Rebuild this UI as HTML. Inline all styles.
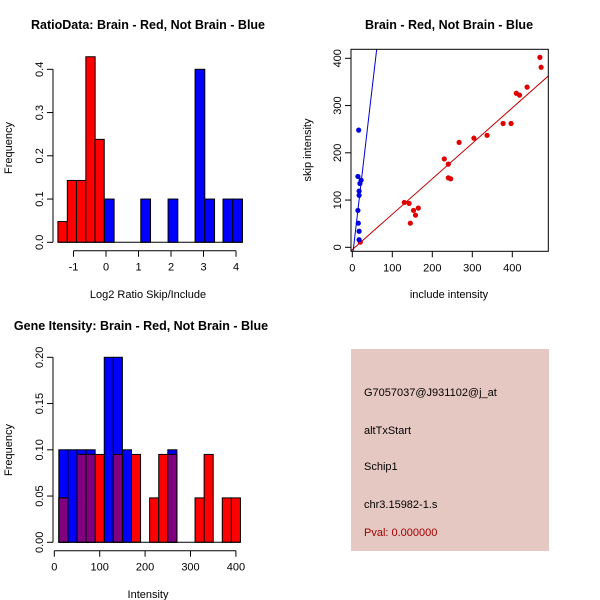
<!DOCTYPE html>
<html><head><meta charset="utf-8"><style>
body{margin:0;background:#fff}
svg{display:block;font-family:"Liberation Sans",Arial,sans-serif}
</style></head><body>
<svg id="s" width="600" height="600" xmlns="http://www.w3.org/2000/svg">
<rect x="0" y="0" width="600" height="600" fill="#fff"/>
<text x="148" y="29" font-size="12.5" font-weight="bold" text-anchor="middle">RatioData: Brain - Red, Not Brain - Blue</text>
<text x="449" y="29" font-size="12.5" font-weight="bold" text-anchor="middle">Brain - Red, Not Brain - Blue</text>
<text x="141" y="330" font-size="12.5" font-weight="bold" text-anchor="middle">Gene Itensity: Brain - Red, Not Brain - Blue</text>
<rect x="351" y="349" width="198" height="202" fill="#e6c8c2"/>
<g font-size="11" fill="#000">
<text x="364" y="396">G7057037@J931102@j_at</text>
<text x="364" y="434">altTxStart</text>
<text x="364" y="470">Schip1</text>
<text x="364" y="508">chr3.15982-1.s</text>
<text x="364" y="536" fill="#a00000">Pval: 0.000000</text>
</g>
</svg>
<script>
// ---- Panel 1 data ----
const ratioTicksX = [-1,0,1,2,3,4];
const ratioTicksY = [0,0.1,0.2,0.3,0.4];
const redRatioLefts = [-1.48,-1.19,-0.91,-0.62,-0.34];
const redRatioFreq = [0.048,0.143,0.143,0.429,0.238];
const blueRatioLefts = [-0.05,1.07,1.91,2.74,3.04,3.6,3.9];
const blueRatioFreq = [0.1,0.1,0.1,0.4,0.1,0.1,0.1];
// ---- Panel 2 data ----
const scatTicks = [0,100,200,300,400];
const redInclude = [20,130,142,153,145,158,165,230,240,240,246,267,304,337,377,397,410,418,437,469,472];
const redSkip = [11,95,93,78,51,68,83,187,176,147,145,222,231,237,262,262,326,322,339,402,381];
const blueInclude = [16,14,22,19,17,17,14,15,17,17];
const blueSkip = [248,150,142,135,119,110,78,51,34,16];
const redFit = [-5,0.75];
const blueFit = [-23,7.25];
// ---- Panel 3 data ----
const intTicksX = [0,100,200,300,400];
const intTicksY = [0,0.05,0.10,0.15,0.20];
const intBinLefts = [10,30,50,70,90,110,130,150,170,190,210,230,250,270,290,310,330,350,370,390];
const redIntFreq = [0.048,0,0.095,0.095,0.095,0,0.095,0,0.095,0,0.048,0.095,0.095,0,0,0.048,0.095,0,0.048,0.048];
const blueIntFreq = [0.1,0.1,0.1,0.1,0,0.2,0.2,0.1,0,0,0,0,0.1,0,0,0,0,0,0,0];

const NS="http://www.w3.org/2000/svg", S=document.getElementById('s');
function mk(t,a,p){const e=document.createElementNS(NS,t);for(const k in a)e.setAttribute(k,a[k]);(p||S).appendChild(e);return e;}
function line(x1,y1,x2,y2,c,p){return mk('line',{x1,y1,x2,y2,stroke:c||'#000','stroke-width':1},p);}

// Panel 1
const g1=mk('g',{});


const x1=v=>73.5+(v+1)*32.5, y1=v=>242.3-v*432.5;
function bars(g,lefts,vals,w,xf,yf,fill,nm){
  lefts.forEach((l,i)=>{ if(vals[i]<=0)return;
    const r=mk('rect',{x:xf(l),y:yf(vals[i]),width:xf(l+w)-xf(l),height:yf(0)-yf(vals[i]),fill,stroke:'#000','stroke-width':1},g);
    
    
  });
}
bars(g1,redRatioLefts,redRatioFreq,0.286,x1,y1,'#ff0000','red-ratio-bar');
bars(g1,blueRatioLefts,blueRatioFreq,0.3,x1,y1,'#0000ff','blue-ratio-bar');
line(x1(-1.48),242.3,x1(4.2),242.3,'#000',g1);
function yaxis(g,ticks,yf,x,fmt,nm){
  const a=mk('g',{},g);
  line(x,yf(ticks[0]),x,yf(ticks[ticks.length-1]),'#000',a);
  ticks.forEach(t=>{line(x-6,yf(t),x,yf(t),'#000',a);
    const tx=mk('text',{x:x-10,y:yf(t),'font-size':11,'text-anchor':'middle',transform:`rotate(-90 ${x-10} ${yf(t)})`},a);tx.textContent=fmt(t);});
}
function xaxis(g,ticks,xf,y,fmt,nm){
  const a=mk('g',{},g);
  line(xf(ticks[0]),y,xf(ticks[ticks.length-1]),y,'#000',a);
  ticks.forEach(t=>{line(xf(t),y,xf(t),y+6,'#000',a);
    const tx=mk('text',{x:xf(t),y:y+20,'font-size':11,'text-anchor':'middle'},a);tx.textContent=fmt(t);});
}
yaxis(g1,ratioTicksY,y1,53,t=>t.toFixed(1),'ratio-y-axis');
xaxis(g1,ratioTicksX,x1,250.7,t=>String(t),'ratio-x-axis');
let t=mk('text',{x:148,y:298,'font-size':11,'text-anchor':'middle'},g1);t.textContent='Log2 Ratio Skip/Include';

t=mk('text',{x:12,y:148,'font-size':11,'text-anchor':'middle',transform:'rotate(-90 12 148)'},g1);t.textContent='Frequency';


// Panel 2
const g2=mk('g',{});


const x2=v=>352.3+v*0.4, y2=v=>247.3-v*0.4725;
const L=351,R=548.3,T=49.3,B=251.3;
const cp=mk('clipPath',{id:'c2'},g2);mk('rect',{x:L,y:T,width:R-L,height:B-T},cp);
const lg=mk('g',{'clip-path':'url(#c2)'},g2);
let ln=line(x2(-10),y2(redFit[0]-10*redFit[1]),x2(520),y2(redFit[0]+520*redFit[1]),'#c00000',lg);

ln=line(x2(0),y2(blueFit[0]),x2(70),y2(blueFit[0]+70*blueFit[1]),'#0000cc',lg);

redInclude.forEach((v,i)=>{const c=mk('circle',{cx:x2(v),cy:y2(redSkip[i]),r:2.6,fill:'#e00000'},g2);
  });
blueInclude.forEach((v,i)=>{const c=mk('circle',{cx:x2(v),cy:y2(blueSkip[i]),r:2.6,fill:'#0000e0'},g2);
  });
mk('rect',{x:L,y:T,width:R-L,height:B-T,fill:'none',stroke:'#000'},g2);
const ya=mk('g',{},g2);
scatTicks.forEach(v=>{line(L-6,y2(v),L,y2(v),'#000',ya);const tx=mk('text',{x:L-10,y:y2(v),'font-size':11,'text-anchor':'middle',transform:`rotate(-90 ${L-10} ${y2(v)})`},ya);tx.textContent=v;});
const xa=mk('g',{},g2);
scatTicks.forEach(v=>{line(x2(v),B,x2(v),B+6,'#000',xa);const tx=mk('text',{x:x2(v),y:B+20,'font-size':11,'text-anchor':'middle'},xa);tx.textContent=v;});
t=mk('text',{x:449,y:298,'font-size':11,'text-anchor':'middle'},g2);t.textContent='include intensity';

t=mk('text',{x:311,y:150,'font-size':11,'text-anchor':'middle',transform:'rotate(-90 311 150)'},g2);t.textContent='skip intensity';


// Panel 3
const g3=mk('g',{});


const x3=v=>54.3+v*0.454, y3=v=>542.3-v*925;
bars(g3,intBinLefts,blueIntFreq,20,x3,y3,'#0000ff','blue-intensity-bar');
bars(g3,intBinLefts,redIntFreq,20,x3,y3,'#ff0000','red-intensity-bar');
bars(g3,intBinLefts,intBinLefts.map((_,i)=>Math.min(redIntFreq[i],blueIntFreq[i])),20,x3,y3,'#800080','overlap-intensity-bar');
line(x3(10),542.3,x3(410),542.3,'#000',g3);
yaxis(g3,intTicksY,y3,53,v=>v.toFixed(2),'intensity-y-axis');
xaxis(g3,intTicksX,x3,550.7,v=>String(v),'intensity-x-axis');
t=mk('text',{x:148,y:598,'font-size':11,'text-anchor':'middle'},g3);t.textContent='Intensity';

t=mk('text',{x:12,y:450,'font-size':11,'text-anchor':'middle',transform:'rotate(-90 12 450)'},g3);t.textContent='Frequency';

</script>
</body></html>
